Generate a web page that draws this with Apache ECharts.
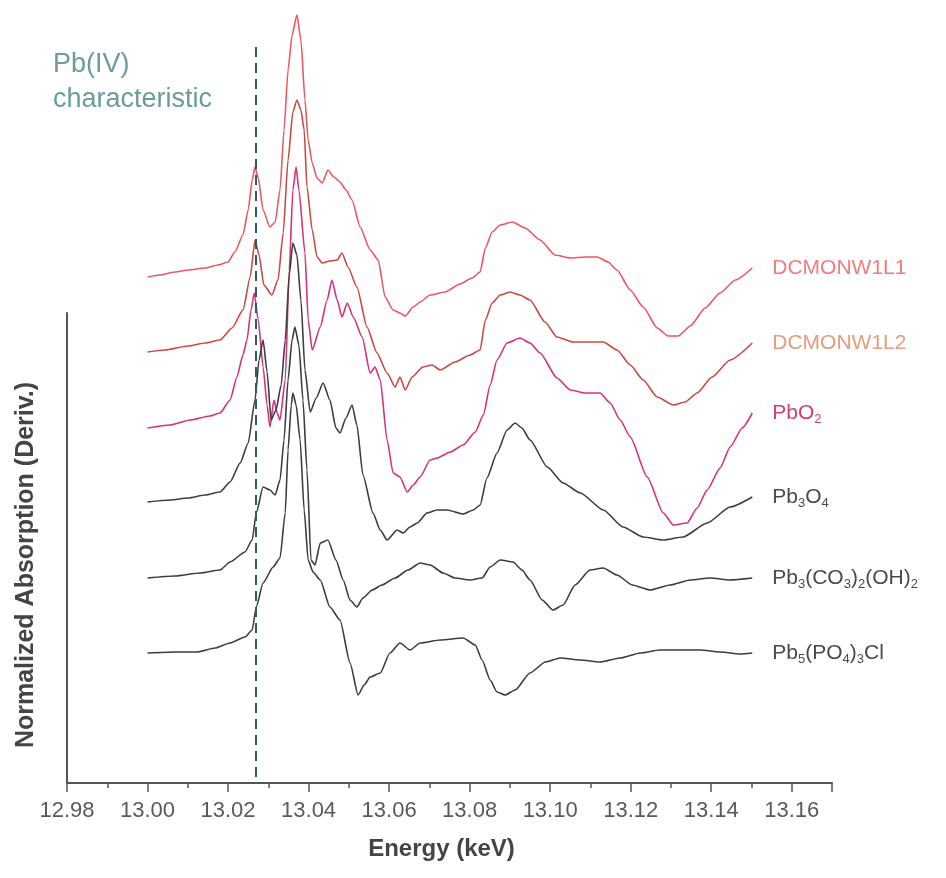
<!DOCTYPE html>
<html>
<head>
<meta charset="utf-8">
<title>Pb L3 XANES derivative</title>
<script src="https://cdn.jsdelivr.net/npm/echarts@6/dist/echarts.min.js"></script>
<style>
  html, body { margin: 0; padding: 0; background: #fff; }
  #chart { width: 946px; height: 878px; }
</style>
</head>
<body>
<div id="chart"></div>
<script>
// axis ticks (keV)
var energyMin = 12.98;
var energyMax = 13.17;
var energyStep = 0.02;
var pbIVEnergy = 13.027;   // dashed marker

// 每条曲线: 能量 / 归一化吸收导数 (带偏移)
var l1Energy = [13.000,13.0031,13.0068,13.0101,13.0143,13.0175,13.0200,13.0217,13.0237,13.0250,13.0260,13.0267,13.0275,13.0287,13.0304,13.0317,13.0329,13.0339,13.0349,13.0359,13.0371,13.0381,13.0391,13.0399,13.0409,13.0421,13.0434,13.0448,13.0463,13.0478,13.0493,13.0508,13.0528,13.0553,13.0573,13.0590,13.0610,13.0627,13.0640,13.0660,13.0677,13.0702,13.0739,13.0776,13.0806,13.0826,13.0839,13.0856,13.0876,13.0906,13.0938,13.0975,13.1012,13.1050,13.1087,13.1117,13.1144,13.1166,13.1199,13.1231,13.1266,13.1293,13.1318,13.1348,13.1385,13.1422,13.1460,13.1502];
var l1Value = [5.06,5.08,5.11,5.13,5.15,5.18,5.21,5.31,5.48,5.73,6.03,6.16,6.05,5.73,5.56,5.61,5.93,6.53,7.13,7.48,7.68,7.43,6.83,6.43,6.20,6.05,6.00,6.13,6.06,6.01,5.93,5.83,5.56,5.33,5.23,4.86,4.73,4.70,4.67,4.76,4.81,4.88,4.91,4.99,5.05,5.11,5.35,5.51,5.58,5.61,5.55,5.43,5.28,5.25,5.26,5.26,5.21,5.13,4.93,4.76,4.55,4.47,4.47,4.57,4.75,4.90,5.03,5.15];

var l2Energy = [13.000,13.0043,13.0101,13.0143,13.0180,13.0210,13.0237,13.0255,13.0267,13.0277,13.0289,13.0309,13.0324,13.0337,13.0349,13.0361,13.0371,13.0381,13.0389,13.0396,13.0409,13.0421,13.0434,13.0453,13.0471,13.0483,13.0498,13.0520,13.0545,13.0570,13.0595,13.0615,13.0627,13.0640,13.0657,13.0684,13.0707,13.0727,13.0764,13.0801,13.0826,13.0839,13.0856,13.0876,13.0901,13.0925,13.0950,13.0987,13.1017,13.1057,13.1099,13.1132,13.1166,13.1199,13.1231,13.1266,13.1306,13.1335,13.1365,13.1402,13.1447,13.1502];
var l2Value = [4.31,4.33,4.37,4.40,4.43,4.55,4.73,5.06,5.43,5.28,4.98,4.88,5.03,5.50,6.23,6.71,6.83,6.73,6.53,5.96,5.53,5.26,5.20,5.22,5.23,5.30,5.16,4.96,4.56,4.30,4.10,3.96,4.06,3.93,4.06,4.16,4.18,4.13,4.21,4.28,4.33,4.63,4.80,4.88,4.91,4.88,4.83,4.61,4.46,4.41,4.41,4.41,4.33,4.18,4.03,3.86,3.78,3.81,3.90,4.06,4.23,4.40];

var pbo2Energy = [13.000,13.0056,13.0106,13.0155,13.0180,13.0205,13.0222,13.0237,13.0247,13.0257,13.0265,13.0275,13.0287,13.0297,13.0304,13.0314,13.0322,13.0329,13.0342,13.0352,13.0361,13.0369,13.0376,13.0391,13.0399,13.0409,13.0429,13.0446,13.0458,13.0471,13.0483,13.0496,13.0511,13.0533,13.0553,13.0565,13.0578,13.0595,13.0610,13.0627,13.0645,13.0660,13.0677,13.0702,13.0719,13.0752,13.0784,13.0814,13.0834,13.0851,13.0868,13.0893,13.0925,13.0950,13.0975,13.1017,13.1050,13.1087,13.1124,13.1149,13.1174,13.1199,13.1241,13.1281,13.1306,13.1340,13.1365,13.1390,13.1422,13.1447,13.1477,13.1502];
var pbo2Value = [3.55,3.58,3.63,3.67,3.70,3.83,4.06,4.28,4.43,4.73,4.90,4.63,4.16,3.78,3.56,3.83,3.70,3.63,4.03,5.13,5.93,6.16,5.93,5.30,4.63,4.33,4.56,4.83,5.03,4.83,4.66,4.80,4.66,4.46,4.10,4.16,4.03,3.43,3.10,3.06,2.91,2.98,3.06,3.23,3.25,3.31,3.38,3.51,3.68,3.98,4.23,4.40,4.45,4.40,4.30,4.05,3.93,3.90,3.90,3.80,3.63,3.46,3.06,2.70,2.58,2.60,2.75,2.93,3.15,3.36,3.55,3.70];

var pb3o4Energy = [13.000,13.0056,13.0101,13.0143,13.0180,13.0205,13.0230,13.0250,13.0267,13.0277,13.0287,13.0297,13.0307,13.0319,13.0332,13.0342,13.0352,13.0361,13.0371,13.0381,13.0391,13.0404,13.0419,13.0436,13.0453,13.0468,13.0478,13.0493,13.0508,13.0520,13.0535,13.0560,13.0578,13.0595,13.0620,13.0635,13.0652,13.0670,13.0694,13.0719,13.0744,13.0784,13.0809,13.0826,13.0843,13.0868,13.0893,13.0913,13.0930,13.0950,13.0993,13.1032,13.1075,13.1132,13.1181,13.1231,13.1281,13.1330,13.1390,13.1447,13.1502];
var pb3o4Value = [2.81,2.83,2.85,2.88,2.91,3.01,3.20,3.40,3.83,4.23,4.43,4.11,3.63,3.73,3.98,4.43,5.08,5.40,5.28,4.83,4.13,3.71,3.85,4.00,3.83,3.55,3.50,3.65,3.78,3.58,3.08,2.70,2.53,2.43,2.53,2.50,2.56,2.60,2.70,2.73,2.73,2.69,2.73,2.78,3.05,3.30,3.53,3.60,3.55,3.43,3.16,3.00,2.90,2.73,2.56,2.46,2.43,2.46,2.60,2.76,2.86];

var ceruEnergy = [13.000,13.0068,13.0130,13.0180,13.0205,13.0242,13.0260,13.0270,13.0287,13.0304,13.0317,13.0329,13.0339,13.0349,13.0359,13.0366,13.0376,13.0386,13.0396,13.0406,13.0416,13.0429,13.0448,13.0468,13.0486,13.0503,13.0520,13.0535,13.0558,13.0582,13.0615,13.0647,13.0677,13.0702,13.0734,13.0764,13.0801,13.0831,13.0851,13.0876,13.0908,13.0930,13.0950,13.0980,13.1007,13.1032,13.1062,13.1099,13.1132,13.1166,13.1204,13.1248,13.1298,13.1348,13.1397,13.1447,13.1502];
var ceruValue = [2.05,2.07,2.10,2.13,2.21,2.31,2.43,2.70,2.96,2.93,2.88,3.03,3.43,4.03,4.43,4.56,4.38,3.83,3.13,2.23,2.18,2.40,2.43,2.23,2.03,1.83,1.76,1.85,1.93,1.98,2.05,2.13,2.20,2.18,2.10,2.05,2.03,2.05,2.16,2.23,2.21,2.13,2.03,1.83,1.73,1.78,1.98,2.13,2.15,2.08,1.98,1.93,1.98,2.03,2.05,2.03,2.05];

var pyroEnergy = [13.000,13.0068,13.0123,13.0168,13.0205,13.0242,13.0260,13.0270,13.0287,13.0312,13.0329,13.0342,13.0349,13.0357,13.0361,13.0369,13.0379,13.0389,13.0399,13.0411,13.0429,13.0453,13.0478,13.0503,13.0523,13.0538,13.0553,13.0578,13.0602,13.0627,13.0652,13.0677,13.0727,13.0784,13.0814,13.0831,13.0851,13.0868,13.0888,13.0913,13.0950,13.0988,13.1025,13.1075,13.1124,13.1174,13.1224,13.1273,13.1323,13.1373,13.1422,13.1472,13.1502];
var pyroValue = [1.30,1.31,1.31,1.35,1.40,1.46,1.53,1.76,2.00,2.16,2.25,2.70,3.33,3.78,3.90,3.78,3.43,2.73,2.23,2.11,2.03,1.76,1.63,1.20,0.88,0.98,1.06,1.10,1.30,1.40,1.33,1.40,1.43,1.45,1.38,1.23,1.03,0.91,0.88,0.93,1.10,1.21,1.25,1.23,1.21,1.25,1.30,1.33,1.33,1.33,1.31,1.29,1.30];

var seriesNames = ['DCMONW1L1', 'DCMONW1L2', 'PbO2', 'Pb3O4', 'Pb3(CO3)2(OH)2', 'Pb5(PO4)3Cl'];
var lineColors  = ['#ec5762', '#c94a42', '#d8307a', '#3d3d3d', '#3d3d3d', '#3d3d3d'];
var labelColors = ['#f07c7c', '#e39c80', '#d23c78', '#4a4a4a', '#4a4a4a', '#4a4a4a'];
// 下标写成富文本
var labelRich = [
    '{t|DCMONW1L1}',
    '{t|DCMONW1L2}',
    '{t|PbO}{s|2}',
    '{t|Pb}{s|3}{t|O}{s|4}',
    '{t|Pb}{s|3}{t|(CO}{s|3}{t|)}{s|2}{t|(OH)}{s|2}',
    '{t|Pb}{s|5}{t|(PO}{s|4}{t|)}{s|3}{t|Cl}'
];

function zip(xs, ys) {
    var out = [];
    for (var i = 0; i < xs.length; i++) out.push([xs[i], ys[i]]);
    return out;
}

var curveData = [
    zip(l1Energy, l1Value),
    zip(l2Energy, l2Value),
    zip(pbo2Energy, pbo2Value),
    zip(pb3o4Energy, pb3o4Value),
    zip(ceruEnergy, ceruValue),
    zip(pyroEnergy, pyroValue)
];

var font = '"Liberation Sans", Arial, Helvetica, sans-serif';

var series = curveData.map(function (d, i) {
    return {
        name: seriesNames[i],
        type: 'line',
        data: d,
        showSymbol: false,
        symbol: 'none',
        smooth: 0.2,
        smoothMonotone: 'x',
        lineStyle: { color: lineColors[i], width: 1.6 },
        endLabel: {
            show: true,
            distance: 20,
            formatter: function () { return labelRich[i]; },
            rich: {
                t: { fontSize: 21, color: labelColors[i], fontFamily: font },
                s: { fontSize: 13, color: labelColors[i], fontFamily: font, padding: [12, 0, 0, 0] }
            }
        }
    };
});

// Pb(IV) 特征能量虚线
series.push({
    type: 'line',
    data: [],
    markLine: {
        silent: true,
        symbol: 'none',
        label: { show: false },
        lineStyle: { color: '#2f5c5c', type: [10, 6], width: 2 },
        data: [[{ coord: [pbIVEnergy, 7.36] }, { coord: [pbIVEnergy, 0] }]]
    }
});

var option = {
    animation: false,
    backgroundColor: '#ffffff',
    title: {
        text: 'Pb(IV)\ncharacteristic',
        left: 48,
        top: 42,
        textStyle: {
            color: '#6a9c9c',
            fontSize: 27,
            fontWeight: 'normal',
            fontFamily: font,
            lineHeight: 35
        }
    },
    grid: [
        { left: 67, right: 114, top: 13, bottom: 95 },
        { left: 67, right: 114, top: 313, bottom: 95 }
    ],
    xAxis: [{
        type: 'value',
        gridIndex: 0,
        min: energyMin,
        max: energyMax,
        interval: energyStep,
        name: 'Energy (keV)',
        nameLocation: 'middle',
        nameGap: 54,
        nameTextStyle: { fontSize: 24, fontWeight: 'bold', color: '#444', fontFamily: font, padding: [0, 16, 0, 0] },
        splitLine: { show: false },
        axisLine: { show: true, lineStyle: { color: '#555', width: 2 } },
        axisTick: { show: true, length: 9, lineStyle: { color: '#555', width: 1.5 } },
        minorTick: { show: true, splitNumber: 2, length: 5, lineStyle: { color: '#555', width: 1.5 } },
        axisLabel: {
            margin: 17,
            fontSize: 22,
            color: '#5a5a5a',
            fontFamily: font,
            showMaxLabel: false,
            formatter: function (v) { return v.toFixed(2); }
        }
    }, {
        type: 'value',
        gridIndex: 1,
        show: false,
        min: energyMin,
        max: energyMax
    }],
    yAxis: [{
        type: 'value',
        gridIndex: 0,
        min: 0,
        max: 7.7,
        show: false
    }, {
        type: 'value',
        gridIndex: 1,
        min: 0,
        max: 1,
        name: 'Normalized Absorption (Deriv.)',
        nameLocation: 'middle',
        nameGap: 28,
        nameTextStyle: { fontSize: 25, fontWeight: 'bold', color: '#444', fontFamily: font, padding: [0, 34, 0, 0] },
        axisLine: { show: true, lineStyle: { color: '#555', width: 2 } },
        axisTick: { show: false },
        axisLabel: { show: false },
        splitLine: { show: false }
    }],
    series: series
};

var chart = echarts.init(document.getElementById('chart'));
chart.setOption(option);
</script>
</body>
</html>
